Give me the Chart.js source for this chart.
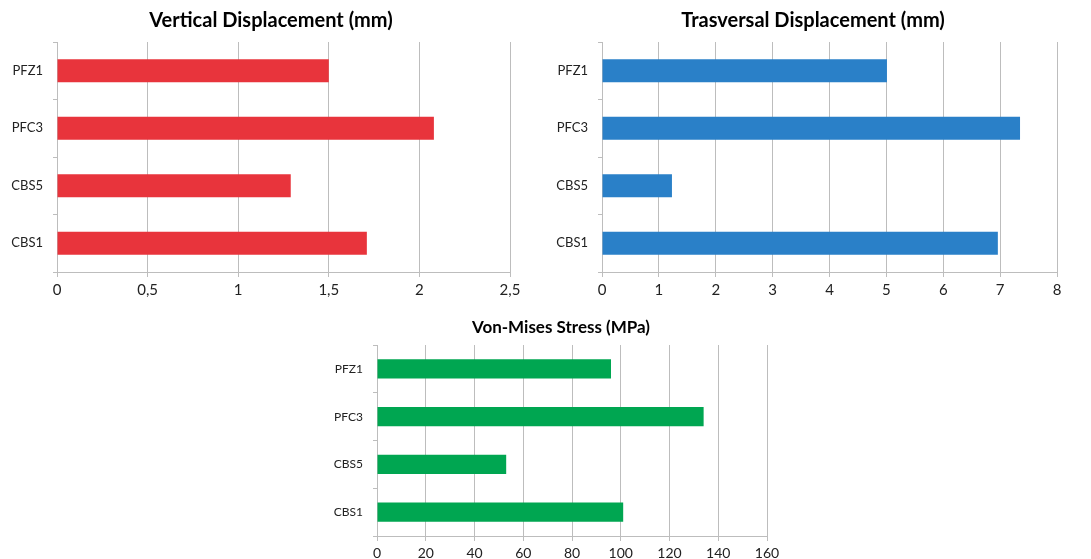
<!DOCTYPE html>
<html>
<head>
<meta charset="utf-8">
<script src="https://cdn.jsdelivr.net/npm/chart.js@4/dist/chart.umd.min.js"></script>
<style>
  body { margin: 0; background: #fff; width: 1091px; height: 559px; overflow: hidden; position: relative; }
  .box { position: absolute; }
</style>
</head>
<body>
<div class="box" style="left:0;top:0;width:542px;height:300px"><canvas id="vert"></canvas></div>
<div class="box" style="left:545px;top:0;width:536px;height:300px"><canvas id="tras"></canvas></div>
<div class="box" style="left:327px;top:310px;width:468px;height:249px"><canvas id="vm"></canvas></div>
<script>
const categories = ['PFZ1', 'PFC3', 'CBS5', 'CBS1'];

const vertValues = [1.5, 2.08, 1.29, 1.71];
const trasValues = [5.01, 7.35, 1.23, 6.96];
const vmValues = [96, 134, 53, 101];

const vertTicks = ['0', '0,5', '1', '1,5', '2', '2,5'];
const trasTicks = ['0', '1', '2', '3', '4', '5', '6', '7', '8'];
const vmTicks = ['0', '20', '40', '60', '80', '100', '120', '140', '160'];

Chart.defaults.font.family = 'Lato, "Open Sans", sans-serif';
Chart.defaults.color = '#222';

function makeChart(id, title, values, ticks, step, color, o) {
  new Chart(document.getElementById(id), {
    type: 'bar',
    data: {
      labels: categories,
      datasets: [{
        data: values,
        backgroundColor: color,
        categoryPercentage: 1,
        barPercentage: 0.4
      }]
    },
    options: {
      indexAxis: 'y',
      responsive: true,
      maintainAspectRatio: false,
      animation: false,
      layout: { padding: 0 },
      plugins: {
        legend: { display: false },
        tooltip: { enabled: false },
        title: {
          display: true,
          text: title,
          color: '#000',
          font: { size: o.titleSize, weight: 'bold' },
          padding: { top: o.titleTop, bottom: o.titleBottom }
        }
      },
      scales: {
        x: {
          min: 0,
          max: step * (ticks.length - 1),
          ticks: {
            stepSize: step,
            font: { size: o.tickSize },
            padding: 4,
            callback: (v, i) => ticks[i]
          },
          grid: { color: '#bdbdbd', tickLength: 5 },
          border: { color: '#bdbdbd' },
          afterFit: s => { s.height = o.xHeight; }
        },
        y: {
          ticks: { font: { size: o.catSize }, padding: 10 },
          grid: { offset: true, drawOnChartArea: false, color: '#bdbdbd', tickLength: 4 },
          border: { color: '#bdbdbd' },
          afterFit: s => { s.width = o.yWidth; }
        },
        // empty right-hand spacer so the title stays centred on the canvas
        spacer: {
          type: 'linear',
          position: 'right',
          display: true,
          ticks: { display: false },
          grid: { display: false, drawTicks: false },
          border: { display: false },
          afterFit: s => { s.width = o.right; }
        }
      }
    }
  });
}

makeChart('vert', 'Vertical Displacement (mm)', vertValues, vertTicks, 0.5, '#e8343c',
  { right: 32, titleSize: 20, titleTop: 9, titleBottom: 9, tickSize: 15, catSize: 13, xHeight: 28, yWidth: 57 });
makeChart('tras', 'Trasversal Displacement (mm)', trasValues, trasTicks, 1, '#2a80c8',
  { right: 24, titleSize: 20, titleTop: 9, titleBottom: 9, tickSize: 15, catSize: 13, xHeight: 28, yWidth: 57 });
makeChart('vm', 'Von-Mises Stress (MPa)', vmValues, vmTicks, 20, '#00a651',
  { right: 28, titleSize: 17, titleTop: 7, titleBottom: 7.6, tickSize: 14, catSize: 12, xHeight: 23, yWidth: 50 });
</script>
</body>
</html>
